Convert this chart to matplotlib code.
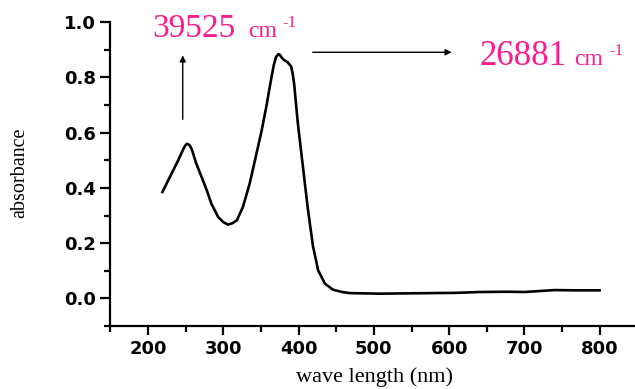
import numpy as np
import matplotlib.pyplot as plt

# absorption spectrum
wavelength = [219, 229, 240, 247, 250, 252, 255, 258, 264, 271, 278, 284, 293, 300, 306, 312,
              318, 326, 335, 344, 351, 357, 364, 367, 370, 373, 375, 378, 381, 385, 390, 392,
              394, 399, 406, 412, 419, 426, 435, 446, 458, 468, 490, 508, 540, 574, 610, 640,
              680, 700, 740, 770, 800]
absorb = [0.385, 0.44, 0.50, 0.542, 0.556, 0.560, 0.555, 0.540, 0.488, 0.44, 0.391, 0.343,
          0.295, 0.276, 0.267, 0.272, 0.283, 0.331, 0.416, 0.524, 0.609, 0.693, 0.802, 0.845,
          0.874, 0.884, 0.882, 0.870, 0.862, 0.856, 0.840, 0.815, 0.778, 0.633, 0.47, 0.33,
          0.19, 0.101, 0.053, 0.031, 0.023, 0.019, 0.018, 0.017, 0.018, 0.019, 0.020, 0.023,
          0.024, 0.023, 0.030, 0.029, 0.029]

xticks = [200, 300, 400, 500, 600, 700, 800]
yticks = [0.0, 0.2, 0.4, 0.6, 0.8, 1.0]
pink = '#ff1a8c'

fig = plt.figure(figsize=(6.35, 3.89), dpi=100)
ax = fig.add_axes([0.174, 0.162, 0.826, 0.781])
ax.plot(wavelength, absorb, color='black', lw=1.9)

ax.set_xlim(150, 847)
ax.set_ylim(-0.1, 1.0)
ax.spines['top'].set_visible(False)
ax.spines['right'].set_visible(False)
for s in ['left', 'bottom']:
    ax.spines[s].set_linewidth(1.6)

ax.set_xticks(xticks)
ax.set_xticks(np.arange(150, 850, 100), minor=True)
ax.set_yticks(yticks)
ax.set_yticks([-0.1, 0.1, 0.3, 0.5, 0.7, 0.9], minor=True)
ax.set_yticklabels(['%.1f' % v for v in yticks])
ax.tick_params(which='major', direction='out', length=6.5, width=1.6, labelsize=13)
ax.tick_params(axis='y', which='major', length=7.5, pad=3)
ax.tick_params(which='minor', direction='out', length=4, width=1.6)
for lab in ax.get_xticklabels() + ax.get_yticklabels():
    lab.set_fontweight('bold')
    lab.set_family('DejaVu Sans')

ax.set_xlabel('wave length (nm)', family='Liberation Serif', fontsize=16)
ax.set_ylabel('absorbance', family='Liberation Serif', fontsize=14.5)
ax.xaxis.set_label_coords(0.504, -0.135)
ax.yaxis.set_label_coords(-0.155, 0.506)

# arrows
ax.annotate('', xy=(246, 0.89), xytext=(246, 0.638),
            arrowprops=dict(arrowstyle='-|>', color='black', lw=1, mutation_scale=9))
ax.annotate('', xy=(607, 0.891), xytext=(415, 0.891),
            arrowprops=dict(arrowstyle='-|>', color='black', lw=1, mutation_scale=9))

# peak labels
ax.text(205, 0.946, '39525', color=pink, family='Liberation Serif', fontsize=24, clip_on=False)
ax.text(332.5, 0.946, 'cm', color=pink, family='Liberation Serif', fontsize=17, clip_on=False)
ax.text(379, 0.982, '-1', color=pink, family='Liberation Serif', fontsize=12, clip_on=False)
ax.text(640, 0.844, '26881', color=pink, family='Liberation Serif', fontsize=25, clip_on=False)
ax.text(766.5, 0.844, 'cm', color=pink, family='Liberation Serif', fontsize=17, clip_on=False)
ax.text(813, 0.880, '-1', color=pink, family='Liberation Serif', fontsize=12, clip_on=False)

fig.savefig('out.png', dpi=100)
